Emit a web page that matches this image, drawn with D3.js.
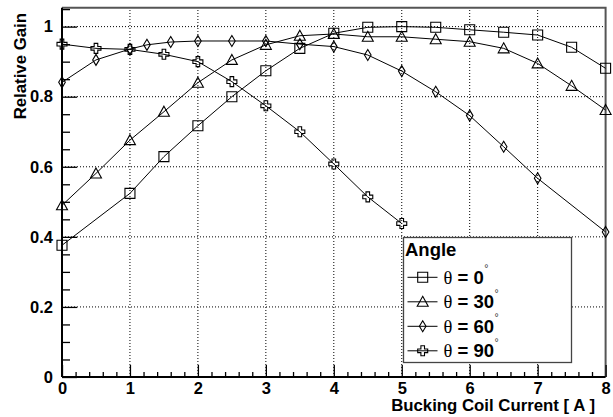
<!DOCTYPE html>
<html>
<head>
<meta charset="utf-8">
<script src="https://cdn.jsdelivr.net/npm/d3@7/dist/d3.min.js"></script>
<style>
  html, body { margin: 0; padding: 0; background: #fff; }
  svg { display: block; }
  text { font-family: "Liberation Sans", Arial, Helvetica, sans-serif; font-weight: bold; fill: #000; }
</style>
</head>
<body>
<svg id="chart" width="613" height="417"></svg>
<script>
// Bucking coil current [A] and relative gain for each detector angle
const current0  = [0, 1, 1.5, 2, 2.5, 3, 3.5, 4, 4.5, 5, 5.5, 6, 6.5, 7, 7.5, 8];
const gain0     = [0.376, 0.524, 0.629, 0.717, 0.800, 0.874, 0.938, 0.981, 0.998, 1.000, 0.998, 0.991, 0.984, 0.976, 0.941, 0.881];

const current30 = [0, 0.5, 1, 1.5, 2, 2.5, 3, 3.5, 4, 4.5, 5, 5.5, 6, 6.5, 7, 7.5, 8];
const gain30    = [0.490, 0.581, 0.676, 0.757, 0.840, 0.905, 0.948, 0.974, 0.979, 0.971, 0.971, 0.964, 0.957, 0.938, 0.895, 0.831, 0.762];

const current60 = [0, 0.5, 1, 1.25, 1.6, 2, 2.5, 3, 3.5, 4, 4.5, 5, 5.5, 6, 6.5, 7, 8];
const gain60    = [0.841, 0.905, 0.936, 0.948, 0.956, 0.959, 0.959, 0.959, 0.950, 0.943, 0.919, 0.873, 0.814, 0.746, 0.657, 0.567, 0.414];

const current90 = [0, 0.5, 1, 1.5, 2, 2.5, 3, 3.5, 4, 4.5, 5];
const gain90    = [0.950, 0.938, 0.935, 0.921, 0.900, 0.843, 0.774, 0.700, 0.608, 0.514, 0.438];

const angleLabels = ["0", "30", "60", "90"];
const markerKinds = ["square", "triangle", "diamond", "cross"];

const xTicks = [0, 1, 2, 3, 4, 5, 6, 7, 8];
const yTicks = [0, 0.2, 0.4, 0.6, 0.8, 1];

const xTitle = "Bucking Coil Current [ A ]";
const yTitle = "Relative Gain";
const legendTitle = "Angle";

(function draw() {
  const series = [
    { xs: current0,  ys: gain0 },
    { xs: current30, ys: gain30 },
    { xs: current60, ys: gain60 },
    { xs: current90, ys: gain90 }
  ].map((s, i) => ({
    label: angleLabels[i],
    marker: markerKinds[i],
    points: s.xs.map((x, j) => [x, s.ys[j]])
  }));

  const svg = d3.select("#chart");
  const pLeft = 62, pRight = 605.6, pTop = 7.7, pBottom = 377;

  const x = d3.scaleLinear().domain([0, 8]).range([pLeft, pRight]);
  const y = d3.scaleLinear().domain([0, 1.054]).range([pBottom, pTop]);

  // Marker outlines, centred on (0,0)
  function markerPath(kind) {
    switch (kind) {
      case "square":   return "M-5,-5H5V5H-5Z";
      case "triangle": return "M0,-5.5L5.5,4.5H-5.5Z";
      case "diamond":  return "M0,-5.5L3.3,0L0,5.5L-3.3,0Z";
      case "cross":    return "M-1.8,-5H1.8V-1.8H5V1.8H1.8V5H-1.8V1.8H-5V-1.8H-1.8Z";
    }
  }

  // Dotted grid at major ticks
  const grid = svg.append("g").attr("stroke", "#000").attr("stroke-width", 1)
    .attr("stroke-dasharray", "1,2").attr("fill", "none");
  grid.selectAll(".gx").data(xTicks.slice(1, -1)).join("line")
    .attr("x1", d => x(d)).attr("x2", d => x(d)).attr("y1", pBottom).attr("y2", pTop);
  grid.selectAll(".gy").data(yTicks.slice(1)).join("line")
    .attr("x1", pLeft).attr("x2", pRight).attr("y1", d => y(d)).attr("y2", d => y(d));

  // Frame (top and right edges)
  svg.append("path")
    .attr("d", `M${pLeft},${pTop}H${pRight}V${pBottom}`)
    .attr("fill", "none").attr("stroke", "#555").attr("stroke-width", 2);

  // Minor ticks
  const xMinor = d3.range(0, 8.001, 0.2).filter(v => Math.abs(v - Math.round(v)) > 1e-6);
  const yMinor = d3.range(0, 1.0501, 0.05).filter(v => Math.abs(v * 5 - Math.round(v * 5)) > 1e-6);

  svg.append("g").attr("transform", `translate(0,${pBottom})`)
    .call(d3.axisBottom(x).tickValues(xMinor).tickSize(-5).tickFormat(""))
    .call(g => g.select(".domain").remove())
    .call(g => g.selectAll("line").attr("stroke", "#000").attr("stroke-width", 1.3));

  svg.append("g").attr("transform", `translate(${pLeft},0)`)
    .call(d3.axisLeft(y).tickValues(yMinor).tickSize(-8).tickFormat(""))
    .call(g => g.select(".domain").remove())
    .call(g => g.selectAll("line").attr("stroke", "#000").attr("stroke-width", 1.3));

  // Major ticks with labels
  const xAxis = svg.append("g").attr("transform", `translate(0,${pBottom})`)
    .call(d3.axisBottom(x).tickValues(xTicks).tickSize(-12).tickSizeOuter(0).tickPadding(5.5).tickFormat(d3.format("d")));
  xAxis.selectAll(".tick line").attr("stroke", "#000").attr("stroke-width", 1.3);
  xAxis.selectAll(".tick text").attr("font-size", 16.5).attr("fill", "#000");
  xAxis.attr("font-family", null).attr("font-size", null);

  const yAxis = svg.append("g").attr("transform", `translate(${pLeft},0)`)
    .call(d3.axisLeft(y).tickValues(yTicks).tickSize(-15).tickSizeOuter(0).tickPadding(9)
      .tickFormat(d => d === 0 ? "0" : d === 1 ? "1" : d3.format(".1f")(d)));
  yAxis.selectAll(".tick line").attr("stroke", "#000").attr("stroke-width", 1.3);
  yAxis.selectAll(".tick text").attr("font-size", 16.5).attr("fill", "#000");
  yAxis.attr("font-family", null).attr("font-size", null);

  // Axis lines span the full frame
  xAxis.select(".domain").attr("d", `M${pLeft},0H${pRight}`).attr("stroke", "#000").attr("stroke-width", 2);
  yAxis.select(".domain").attr("d", `M0,${pBottom}V${pTop}`).attr("stroke", "#000").attr("stroke-width", 2);

  // Axis titles
  svg.append("text")
    .attr("x", 595).attr("y", 411)
    .attr("text-anchor", "end").attr("font-size", 16.8)
    .text(xTitle);

  svg.append("text")
    .attr("transform", "translate(25.5,13) rotate(-90)")
    .attr("text-anchor", "end").attr("font-size", 16.8)
    .text(yTitle);

  // Data lines and markers
  const line = d3.line().x(d => x(d[0])).y(d => y(d[1]));
  const plot = svg.append("g");
  series.forEach(s => {
    plot.append("path").datum(s.points)
      .attr("d", line).attr("fill", "none").attr("stroke", "#000").attr("stroke-width", 1);
    plot.append("g").selectAll("path").data(s.points).join("path")
      .attr("transform", d => `translate(${x(d[0])},${y(d[1])})`)
      .attr("d", markerPath(s.marker))
      .attr("fill", "none").attr("stroke", "#000").attr("stroke-width", 1.1);
  });

  // Legend
  const lg = svg.append("g");
  lg.append("rect")
    .attr("x", 403.5).attr("y", 237.5).attr("width", 168).attr("height", 125)
    .attr("fill", "#fff").attr("stroke", "#444").attr("stroke-width", 1.3);
  lg.append("text").attr("x", 405).attr("y", 255.5).attr("font-size", 18.5).text(legendTitle);

  series.forEach((s, i) => {
    const cy = 277.3 + i * 24.5;
    const row = lg.append("g");
    row.append("line").attr("x1", 407.5).attr("x2", 437.5).attr("y1", cy).attr("y2", cy)
      .attr("stroke", "#000").attr("stroke-width", 1);
    row.append("path").attr("transform", `translate(422.7,${cy})`)
      .attr("d", markerPath(s.marker)).attr("fill", "none").attr("stroke", "#000").attr("stroke-width", 1.1);
    const t = row.append("text").attr("x", 443.5).attr("y", cy + 6.3).attr("font-size", 18.5);
    t.append("tspan").attr("font-family", "'Liberation Serif', 'Times New Roman', serif")
      .attr("font-weight", "normal").text("θ");
    t.append("tspan").text(" = " + s.label);
    t.append("tspan").attr("font-size", 10.5).attr("font-weight", "normal").attr("fill", "#333")
      .attr("dy", -11.5).attr("dx", 0.5).text("°");
  });
})();
</script>
</body>
</html>
